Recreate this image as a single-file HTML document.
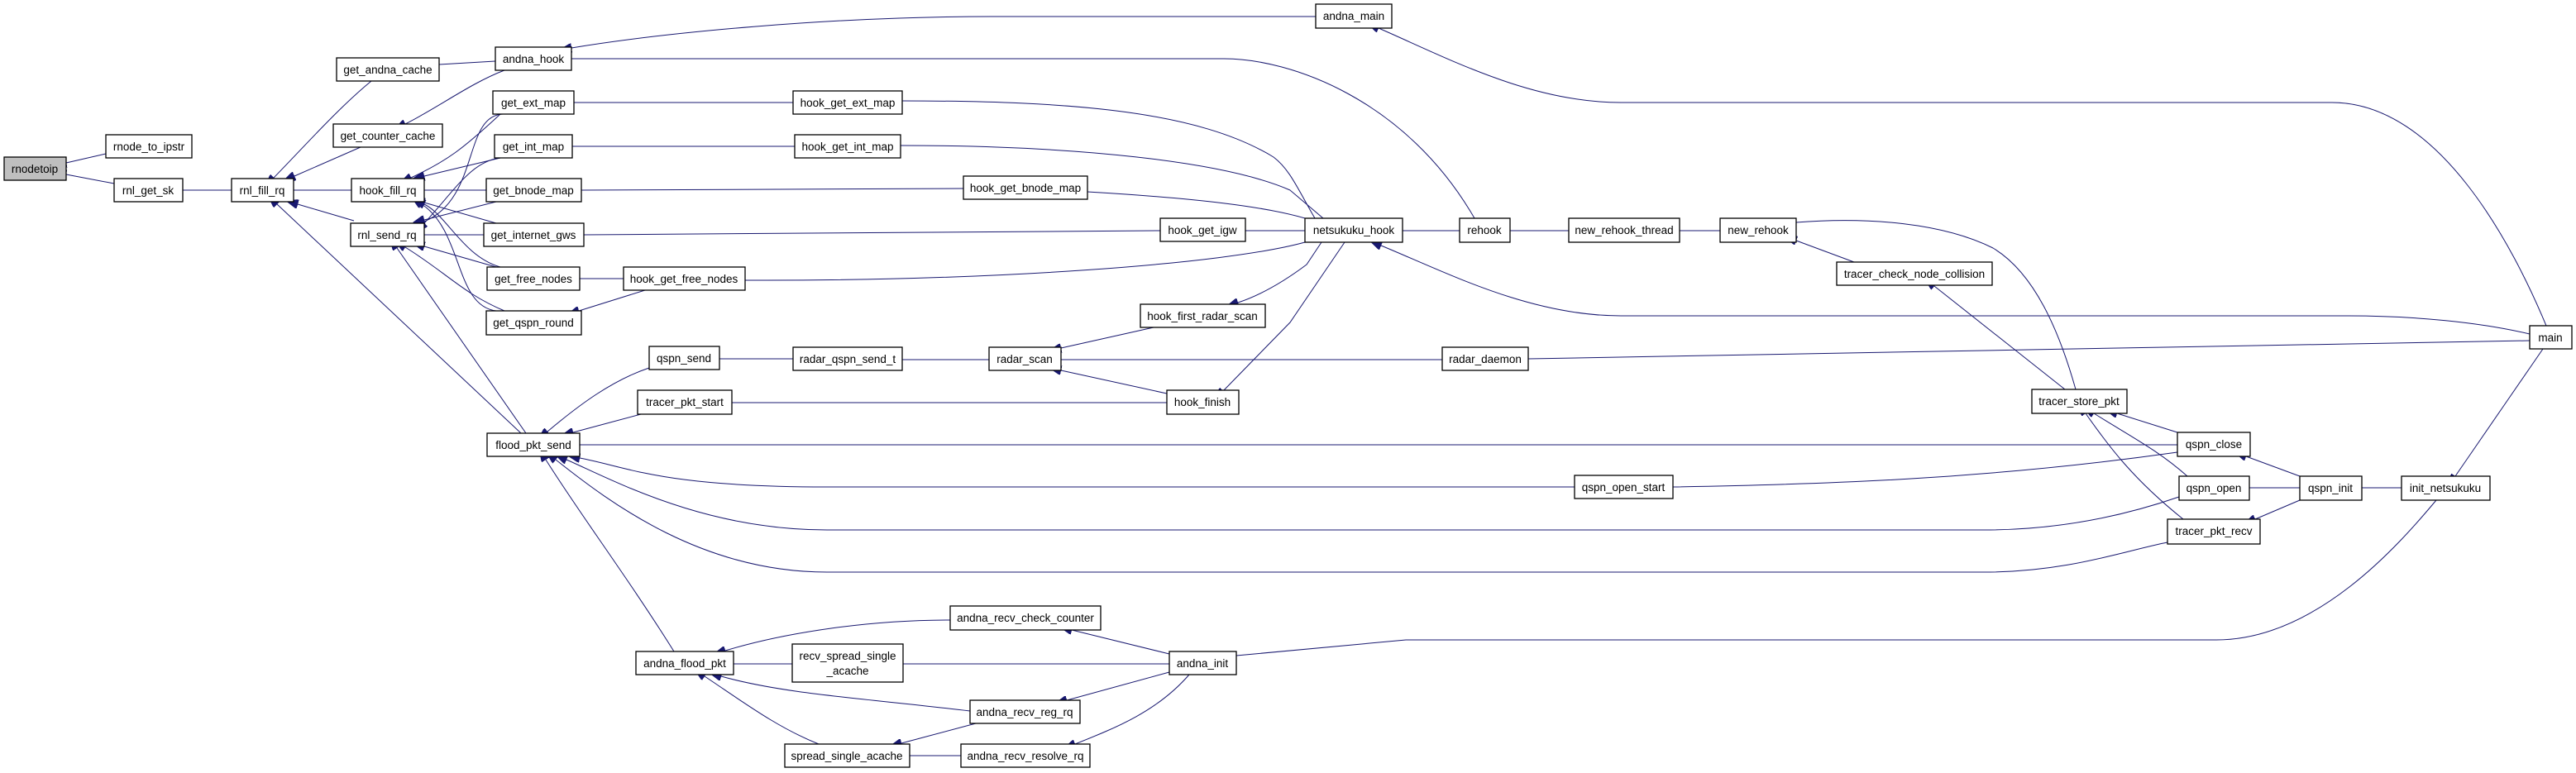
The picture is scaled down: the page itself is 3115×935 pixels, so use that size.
<!DOCTYPE html>
<html><head><meta charset="utf-8"><style>
html,body{margin:0;padding:0;background:#fff;}
svg{display:block;}
text{font-family:"Liberation Sans",sans-serif;font-size:13.5px;fill:#000;text-anchor:middle;}
.n{fill:#fff;stroke:#000;stroke-width:1.3;}
.e{fill:none;stroke:#191970;stroke-width:1;marker-start:url(#a);}
</style></head><body>
<svg width="3115" height="935" viewBox="0 0 3115 935" xmlns="http://www.w3.org/2000/svg">
<defs><marker id="a" viewBox="0 0 10 8" refX="0" refY="4" markerWidth="14" markerHeight="11" markerUnits="userSpaceOnUse" orient="auto-start-reverse"><path d="M0,0 L10,4 L0,8 z" fill="#191970" stroke="#191970"/></marker></defs>

<!-- edges: start at callee (arrow), end at caller -->
<path class="e" d="M80,197 L128,186"/>
<path class="e" d="M80,211 L138,222"/>
<path class="e" d="M221,230 L280,230"/>
<path class="e" d="M331,215 C370,175 410,130 449,98"/>
<path class="e" d="M356,213 L436,178"/>
<path class="e" d="M355,230 L425,230"/>
<path class="e" d="M360,247 L428,267"/>
<path class="e" d="M335,247 L630,524"/>
<path class="e" d="M531,78 L599,74"/>
<path class="e" d="M490,150 C530,130 570,100 610,85"/>
<!-- hook_fill_rq / rnl_send_rq fan -->
<path class="e" d="M497,215 C540,195 560,180 605,138"/>
<path class="e" d="M513,213 L605,191"/>
<path class="e" d="M513,230 L588,230"/>
<path class="e" d="M513,245 L600,270"/>
<path class="e" d="M513,247 C540,260 560,310 605,323"/>
<path class="e" d="M510,247 C560,280 550,370 600,376"/>
<path class="e" d="M513,268 C580,240 560,140 608,138"/>
<path class="e" d="M513,270 C550,230 570,195 605,191"/>
<path class="e" d="M513,266 L600,244"/>
<path class="e" d="M513,284 L585,284"/>
<path class="e" d="M513,298 L600,323"/>
<path class="e" d="M490,299 C540,330 560,355 610,376"/>
<path class="e" d="M480,300 L636,524"/>
<!-- hook_get_* -->
<path class="e" d="M694,124 L959,124"/>
<path class="e" d="M692,177 L961,177"/>
<path class="e" d="M703,230 L1165,228"/>
<path class="e" d="M706,284 L1403,279"/>
<path class="e" d="M701,337 L754,337"/>
<path class="e" d="M700,376 L780,351"/>
<path class="e" d="M1091,122 C1300,122 1450,135 1540,190 C1560,205 1570,230 1590,264"/>
<path class="e" d="M1089,176 C1300,176 1480,195 1560,230 L1600,264"/>
<path class="e" d="M1315,232 C1450,240 1530,250 1578,264"/>
<path class="e" d="M1506,279 L1578,279"/>
<path class="e" d="M901,339 C1200,340 1480,320 1578,293"/>
<path class="e" d="M691,58 C800,40 1000,20 1200,20 L1591,20"/>
<path class="e" d="M691,71 L1480,71 C1560,71 1700,120 1783,264"/>
<path class="e" d="M1696,279 L1765,279"/>
<path class="e" d="M1670,297 C1750,330 1850,382 1960,382 L2840,382 C2920,382 3000,390 3059,404"/>
<path class="e" d="M1667,34 C1750,70 1850,124 1960,124 L2820,124 C2950,124 3040,300 3079,394"/>
<!-- radar -->
<path class="e" d="M1497,366 C1530,355 1560,335 1580,320 L1598,293"/>
<path class="e" d="M1479,473 L1560,390 L1626,293"/>
<path class="e" d="M870,434 L959,434"/>
<path class="e" d="M1091,435 L1196,435"/>
<path class="e" d="M1283,421 L1395,396"/>
<path class="e" d="M1283,448 L1411,476"/>
<path class="e" d="M1283,435 L1744,435"/>
<path class="e" d="M1848,434 L3059,412"/>
<path class="e" d="M885,487 L1411,487"/>
<!-- flood_pkt_send -->
<path class="e" d="M662,522 C700,490 740,460 785,445"/>
<path class="e" d="M693,523 L775,501"/>
<path class="e" d="M701,538 L2633,538"/>
<path class="e" d="M701,554 C760,565 800,589 1000,589 L1904,589"/>
<path class="e" d="M2023,589 C2200,586 2400,580 2633,547"/>
<path class="e" d="M685,556 C740,580 850,641 1000,641 L2400,641 C2500,641 2580,620 2635,601"/>
<path class="e" d="M672,556 C740,610 850,692 1000,692 L2400,692 C2500,692 2570,666 2621,656"/>
<path class="e" d="M660,556 C700,620 760,700 815,788"/>
<!-- rehook chain -->
<path class="e" d="M1826,279 L1897,279"/>
<path class="e" d="M2031,279 L2080,279"/>
<path class="e" d="M2172,269 C2260,262 2350,270 2410,300 C2460,330 2490,400 2510,471"/>
<path class="e" d="M2172,291 L2242,317"/>
<path class="e" d="M2339,346 L2497,471"/>
<path class="e" d="M2560,500 L2633,523"/>
<path class="e" d="M2532,500 C2580,530 2610,545 2645,576"/>
<path class="e" d="M2522,500 C2550,540 2580,580 2640,628"/>
<path class="e" d="M2716,552 L2781,576"/>
<path class="e" d="M2720,590 L2781,590"/>
<path class="e" d="M2727,628 L2781,605"/>
<path class="e" d="M2856,590 L2904,590"/>
<path class="e" d="M2969,576 L3075,422"/>
<path class="e" d="M1495,793 L1700,774 L2680,774 C2800,774 2900,660 2946,605"/>
<!-- andna -->
<path class="e" d="M877,787 C950,765 1050,750 1149,750"/>
<path class="e" d="M887,803 L958,803"/>
<path class="e" d="M872,818 C950,840 1050,845 1173,860"/>
<path class="e" d="M852,818 C900,850 940,880 990,900"/>
<path class="e" d="M1296,762 L1414,791"/>
<path class="e" d="M1092,803 L1414,803"/>
<path class="e" d="M1290,847 L1414,813"/>
<path class="e" d="M1300,900 C1350,880 1400,860 1438,816"/>
<path class="e" d="M1090,899 L1180,875"/>
<path class="e" d="M1100,914 L1162,914"/>

<!-- nodes -->
<g>
<rect x="5" y="190" width="75" height="28" style="fill:#bfbfbf;stroke:#000;stroke-width:1.3"/><text x="42" y="209">rnodetoip</text>
<rect class="n" x="128" y="163" width="104" height="28"/><text x="180" y="182">rnode_to_ipstr</text>
<rect class="n" x="138" y="216" width="83" height="28"/><text x="179" y="235">rnl_get_sk</text>
<rect class="n" x="280" y="216" width="75" height="28"/><text x="317" y="235">rnl_fill_rq</text>
<rect class="n" x="407" y="70" width="124" height="28"/><text x="469" y="89">get_andna_cache</text>
<rect class="n" x="403" y="150" width="132" height="28"/><text x="469" y="169">get_counter_cache</text>
<rect class="n" x="599" y="57" width="92" height="28"/><text x="645" y="76">andna_hook</text>
<rect class="n" x="425" y="216" width="88" height="28"/><text x="469" y="235">hook_fill_rq</text>
<rect class="n" x="424" y="270" width="89" height="28"/><text x="468" y="289">rnl_send_rq</text>
<rect class="n" x="596" y="110" width="98" height="28"/><text x="645" y="129">get_ext_map</text>
<rect class="n" x="598" y="163" width="94" height="28"/><text x="645" y="182">get_int_map</text>
<rect class="n" x="588" y="216" width="115" height="28"/><text x="645" y="235">get_bnode_map</text>
<rect class="n" x="585" y="270" width="121" height="28"/><text x="645" y="289">get_internet_gws</text>
<rect class="n" x="589" y="323" width="112" height="28"/><text x="645" y="342">get_free_nodes</text>
<rect class="n" x="588" y="376" width="115" height="29"/><text x="645" y="395">get_qspn_round</text>
<rect class="n" x="589" y="524" width="112" height="28"/><text x="645" y="543">flood_pkt_send</text>
<rect class="n" x="785" y="419" width="85" height="28"/><text x="827" y="438">qspn_send</text>
<rect class="n" x="771" y="472" width="114" height="29"/><text x="828" y="491">tracer_pkt_start</text>
<rect class="n" x="769" y="788" width="118" height="28"/><text x="828" y="807">andna_flood_pkt</text>
<rect class="n" x="754" y="323" width="147" height="28"/><text x="827" y="342">hook_get_free_nodes</text>
<rect class="n" x="959" y="110" width="132" height="28"/><text x="1025" y="129">hook_get_ext_map</text>
<rect class="n" x="961" y="163" width="128" height="28"/><text x="1025" y="182">hook_get_int_map</text>
<rect class="n" x="1165" y="213" width="150" height="28"/><text x="1240" y="232">hook_get_bnode_map</text>
<rect class="n" x="1403" y="264" width="103" height="28"/><text x="1454" y="283">hook_get_igw</text>
<rect class="n" x="1379" y="368" width="151" height="28"/><text x="1454" y="387">hook_first_radar_scan</text>
<rect class="n" x="959" y="420" width="132" height="28"/><text x="1025" y="439">radar_qspn_send_t</text>
<rect class="n" x="1196" y="420" width="87" height="28"/><text x="1239" y="439">radar_scan</text>
<rect class="n" x="1411" y="472" width="87" height="29"/><text x="1454" y="491">hook_finish</text>
<rect class="n" x="1149" y="733" width="182" height="29"/><text x="1240" y="752">andna_recv_check_counter</text>
<rect class="n" x="958" y="779" width="134" height="46"/><text x="1025" y="798">recv_spread_single</text><text x="1025" y="816">_acache</text>
<rect class="n" x="1414" y="788" width="81" height="28"/><text x="1454" y="807">andna_init</text>
<rect class="n" x="1173" y="847" width="133" height="28"/><text x="1239" y="866">andna_recv_reg_rq</text>
<rect class="n" x="949" y="900" width="151" height="28"/><text x="1024" y="919">spread_single_acache</text>
<rect class="n" x="1162" y="900" width="156" height="28"/><text x="1240" y="919">andna_recv_resolve_rq</text>
<rect class="n" x="1591" y="5" width="92" height="29"/><text x="1637" y="24">andna_main</text>
<rect class="n" x="1578" y="264" width="118" height="29"/><text x="1637" y="283">netsukuku_hook</text>
<rect class="n" x="1765" y="264" width="61" height="29"/><text x="1795" y="283">rehook</text>
<rect class="n" x="1897" y="264" width="134" height="29"/><text x="1964" y="283">new_rehook_thread</text>
<rect class="n" x="2080" y="264" width="92" height="29"/><text x="2126" y="283">new_rehook</text>
<rect class="n" x="2221" y="317" width="188" height="28"/><text x="2315" y="336">tracer_check_node_collision</text>
<rect class="n" x="1744" y="420" width="104" height="28"/><text x="1796" y="439">radar_daemon</text>
<rect class="n" x="1904" y="575" width="119" height="28"/><text x="1963" y="594">qspn_open_start</text>
<rect class="n" x="3059" y="394" width="51" height="28"/><text x="3084" y="413">main</text>
<rect class="n" x="2457" y="471" width="115" height="29"/><text x="2514" y="490">tracer_store_pkt</text>
<rect class="n" x="2633" y="523" width="88" height="29"/><text x="2677" y="542">qspn_close</text>
<rect class="n" x="2635" y="576" width="85" height="29"/><text x="2677" y="595">qspn_open</text>
<rect class="n" x="2621" y="628" width="112" height="30"/><text x="2677" y="647">tracer_pkt_recv</text>
<rect class="n" x="2781" y="576" width="75" height="29"/><text x="2818" y="595">qspn_init</text>
<rect class="n" x="2904" y="576" width="107" height="29"/><text x="2957" y="595">init_netsukuku</text>
</g>
</svg>
</body></html>
